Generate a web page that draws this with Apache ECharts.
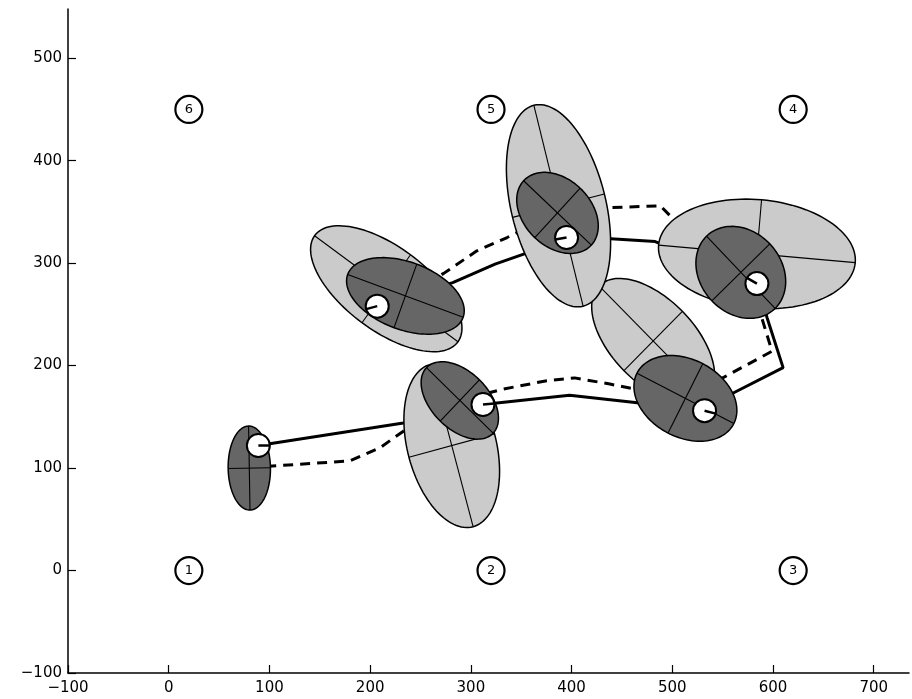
<!DOCTYPE html>
<html>
<head>
<meta charset="utf-8">
<script src="https://cdn.jsdelivr.net/npm/echarts@6/dist/echarts.min.js"></script>
<style>
html, body { margin: 0; padding: 0; background: #fff; }
#main { width: 912px; height: 699px; }
</style>
</head>
<body>
<div id="main"></div>
<script>
// tick values
const xTicks = [-100, 0, 100, 200, 300, 400, 500, 600, 700];
const yTicks = [-100, 0, 100, 200, 300, 400, 500];

// landmarks [x, y, label]
const landmarks = [[20, 0, '1'], [320, 0, '2'], [620, 0, '3'], [620, 450, '4'], [320, 450, '5'], [20, 450, '6']];

// robot poses [x, y, heading deg]
const robotPoses = [[89, 122, 0], [312, 162, 5], [532, 156, -15], [584, 280, 150], [395, 325, 190], [207, 258, 195]];

// true path (solid)
const truePath = [[89, 122], [233, 144], [312, 162], [349, 166], [398, 171], [463, 164], [532, 156],
  [560, 173], [610, 198], [594, 247], [584, 280], [483, 321], [435, 324], [395, 325],
  [356, 310], [324, 299], [282, 281], [207, 258]];

// estimated path (dashed)
const estPath = [[80, 100], [103, 102], [180, 107], [210, 120], [233, 136], [289, 166],
  [332, 177], [374, 185], [403, 188], [438, 182], [463, 177], [514, 169],
  [550, 188], [599, 214], [589, 246], [568, 291], [498, 346], [488, 356], [433, 354],
  [386, 349], [336, 325], [306, 312], [273, 290], [235, 268]];

// predicted covariance ellipses [cx, cy, semiMajor, semiMinor, angleDeg]
const lightEllipses = [[281, 122, 82, 44, 105], [481, 224, 76, 41, -45], [584, 309, 98, 53, -5],
  [387, 356, 101, 47, 104], [216, 275, 88, 41, -36]];

// corrected covariance ellipses
const darkEllipses = [[80, 100, 41, 21, 91], [289, 166, 46, 28, -44], [513, 168, 54, 38, -27],
  [568, 291, 49, 40, -46], [386, 349, 46, 33, -43], [235, 268, 61, 33, -20]];

const chart = echarts.init(document.getElementById('main'));
const FONT = 'DejaVu Sans, Liberation Sans, sans-serif';

function ellipseRender(fill) {
  return function (params, api) {
    const cx = api.value(0), cy = api.value(1), a = api.value(2), b = api.value(3);
    const phi = api.value(4) * Math.PI / 180;
    const c = Math.cos(phi), s = Math.sin(phi);
    const pt = (u, v) => api.coord([cx + u * c - v * s, cy + u * s + v * c]);
    const pts = [];
    for (let k = 0; k < 120; k++) {
      const t = k / 120 * 2 * Math.PI;
      pts.push(pt(a * Math.cos(t), b * Math.sin(t)));
    }
    const p1 = pt(-a, 0), p2 = pt(a, 0), q1 = pt(0, -b), q2 = pt(0, b);
    return {
      type: 'group',
      children: [
        { type: 'polygon', shape: { points: pts }, style: { fill: fill, stroke: '#000', lineWidth: 1.5 } },
        { type: 'line', shape: { x1: p1[0], y1: p1[1], x2: p2[0], y2: p2[1] }, style: { stroke: '#000', lineWidth: 1.1 } },
        { type: 'line', shape: { x1: q1[0], y1: q1[1], x2: q2[0], y2: q2[1] }, style: { stroke: '#000', lineWidth: 1.1 } }
      ]
    };
  };
}

function robotRender(params, api) {
  const p = api.coord([api.value(0), api.value(1)]);
  const h = api.value(2) * Math.PI / 180;
  const r = 11.5;
  return {
    type: 'group',
    children: [
      { type: 'circle', shape: { cx: p[0], cy: p[1], r: r }, style: { fill: '#fff', stroke: '#000', lineWidth: 2 } },
      { type: 'line', shape: { x1: p[0], y1: p[1], x2: p[0] + r * Math.cos(h), y2: p[1] - r * Math.sin(h) },
        style: { stroke: '#000', lineWidth: 2.5 } }
    ]
  };
}

const minus = v => String(v).replace('-', '\u2212');

const option = {
  animation: false,
  backgroundColor: '#fff',
  grid: { left: 68, right: 3, top: 9, bottom: 26, containLabel: false },
  xAxis: {
    type: 'value', min: -100, max: 735, interval: 100,
    axisLine: { show: true, onZero: false, lineStyle: { color: '#000', width: 1.5 } },
    axisTick: { show: true, inside: true, length: 8, customValues: xTicks, lineStyle: { color: '#000', width: 1.2 } },
    axisLabel: { customValues: xTicks, formatter: minus, color: '#000', fontSize: 15, margin: 8, fontFamily: FONT },
    splitLine: { show: false }
  },
  yAxis: {
    type: 'value', min: -100, max: 548, interval: 100,
    axisLine: { show: true, onZero: false, lineStyle: { color: '#000', width: 1.5 } },
    axisTick: { show: true, inside: true, length: 8, customValues: yTicks, lineStyle: { color: '#000', width: 1.2 } },
    axisLabel: { customValues: yTicks, formatter: minus, color: '#000', fontSize: 15, margin: 6, fontFamily: FONT },
    splitLine: { show: false }
  },
  series: [
    {
      type: 'line', data: truePath, showSymbol: false, z: 1, silent: true,
      lineStyle: { color: '#000', width: 3 }
    },
    {
      type: 'line', data: estPath, showSymbol: false, z: 1, silent: true,
      lineStyle: { color: '#000', width: 3, type: [10, 7] }
    },
    {
      type: 'custom', data: lightEllipses, renderItem: ellipseRender('#cbcbcb'), z: 2,
      encode: { x: 0, y: 1 }, clip: false, silent: true
    },
    {
      type: 'custom', data: darkEllipses, renderItem: ellipseRender('#666666'), z: 3,
      encode: { x: 0, y: 1 }, clip: false, silent: true
    },
    {
      type: 'custom', data: robotPoses, renderItem: robotRender, z: 4,
      encode: { x: 0, y: 1 }, clip: false, silent: true
    },
    {
      type: 'scatter', data: landmarks, symbol: 'circle', symbolSize: 27, z: 5, silent: true,
      itemStyle: { color: '#fff', borderColor: '#000', borderWidth: 2.2, opacity: 1 },
      label: { show: true, position: 'inside', formatter: p => p.value[2], color: '#000', fontSize: 13, fontFamily: FONT }
    }
  ]
};

chart.setOption(option);
</script>
</body>
</html>
